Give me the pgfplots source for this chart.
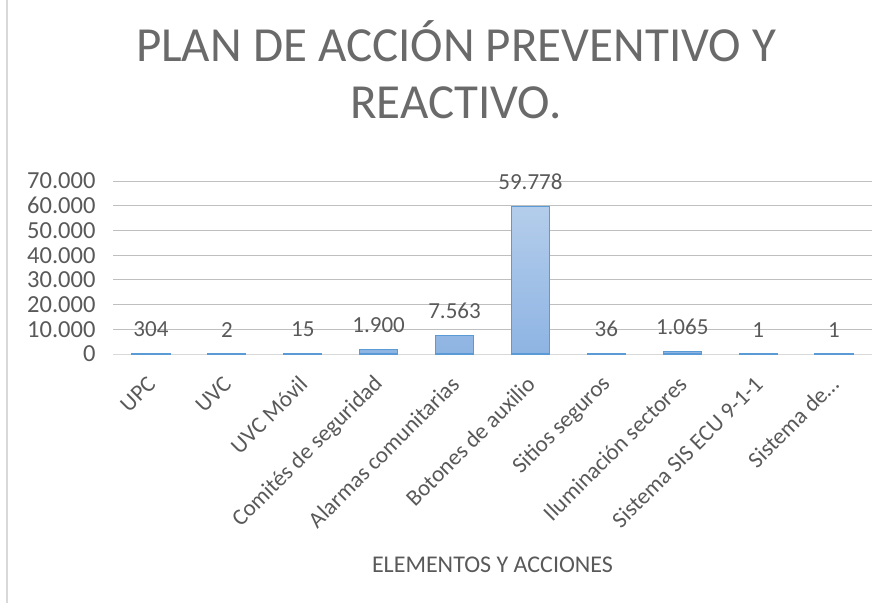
\documentclass[border=0pt]{standalone}
\usepackage{pgfplots}
\pgfplotsset{compat=1.18}
\usepackage{fontspec}
\setmainfont{Carlito}
\definecolor{txt}{HTML}{595959}
\definecolor{ttl}{HTML}{6A6A6A}
\definecolor{grid}{HTML}{D9D9D9}
\definecolor{barline}{HTML}{5B9BD5}
\definecolor{bartop}{HTML}{B4CDEB}
\definecolor{barbot}{HTML}{8EB4E3}
\begin{document}
\begin{tikzpicture}[x=1pt,y=1pt]
\path[use as bounding box] (0,0) rectangle (886,603);
\draw[grid, line width=1.2pt] (7,0) -- (7,603);
\node[ttl, font=\fontsize{49}{57}\selectfont, anchor=base, inner sep=0pt] at (456,541) {PLAN DE ACCIÓN PREVENTIVO Y};
\node[ttl, font=\fontsize{49}{57}\selectfont, anchor=base, inner sep=0pt] at (456,484) {REACTIVO.};
\begin{axis}[
  at={(113pt,249pt)}, anchor=south west,
  scale only axis, width=759pt, height=173pt,
  xmin=-0.5, xmax=9.5, ymin=0, ymax=70000,
  ytick={0,10000,...,70000},
  xtick={0,...,9},
  xticklabels={UPC,UVC,UVC Móvil,Comités de seguridad,Alarmas comunitarias,Botones de auxilio,Sitios seguros,Iluminación sectores,Sistema SIS ECU 9-1-1,Sistema de…},
  scaled y ticks=false,
  /pgf/number format/.cd, 1000 sep={.}, assume math mode=true, /pgfplots/.cd,
  yticklabel style={font=\fontsize{24.5}{24.5}\selectfont, text=txt, anchor=east, xshift=-14pt},
  xticklabel style={font=\fontsize{23}{23}\selectfont, text=txt, xshift=3pt, yshift=-24pt, rotate=45, anchor=east},
  tick style={draw=none},
  xmajorgrids=false, ymajorgrids=true, grid style={grid, line width=1pt},
  axis x line*=bottom, axis y line*=left,
  y axis line style={draw=none},
  x axis line style={grid, line width=1pt, -},
  xlabel={ELEMENTOS Y ACCIONES},
  xlabel style={font=\fontsize{24}{24}\selectfont, text=txt, at={(axis description cs:0.5,0)}, anchor=center, yshift=-211pt},
  clip=false,
]
\addplot[ybar, bar width=38pt, draw=barline, line width=1.2pt, top color=bartop, bottom color=barbot,
  nodes near coords={\pgfmathprintnumber[fixed, precision=0, 1000 sep={.}, assume math mode=true]{\pgfplotspointmeta}},
  every node near coord/.append style={font=\fontsize{23}{23}\selectfont, text=txt, anchor=south, yshift=13pt}]
  coordinates {(0,304) (1,2) (2,15) (3,1900) (4,7563) (5,59778) (6,36) (7,1065) (8,1) (9,1)};
\end{axis}
\end{tikzpicture}
\end{document}
